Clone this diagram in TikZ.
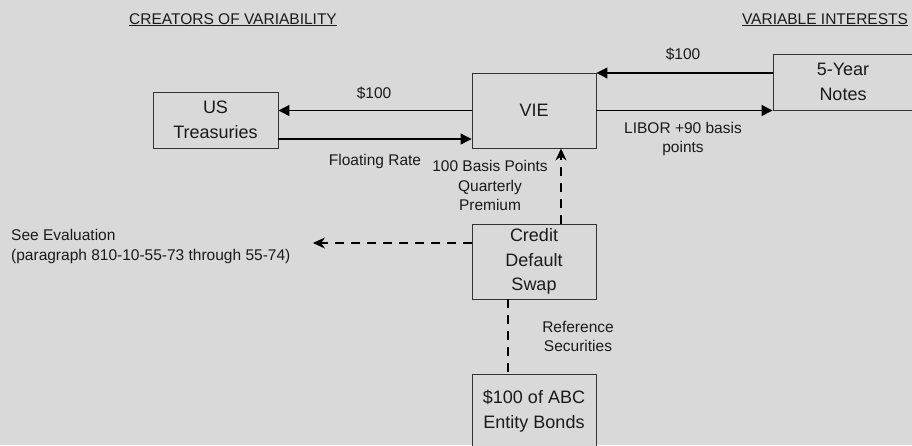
\documentclass[tikz,border=0pt]{standalone}
\usepackage{fontspec}
\setmainfont{Liberation Sans}
\usetikzlibrary{arrows.meta}
\definecolor{bg}{HTML}{D9D9D9}
\definecolor{ink}{HTML}{1A1A1A}
\begin{document}
\begin{tikzpicture}[x=1pt,y=-1pt,
  box/.style={draw=black!80, line width=0.9pt, fill=bg, inner sep=0pt, align=center,
    font=\fontsize{18}{24.5}\selectfont, text=ink},
  lbl/.style={inner sep=0pt, align=center, font=\fontsize{15.5}{19.5}\selectfont, text=ink},
  flow/.style={line width=1.1pt, -{Triangle[length=11pt,width=11pt]}},
  dflow/.style={line width=1.1pt, dash pattern=on 9pt off 7pt, -{Stealth[length=12pt,width=11pt]}},
  dline/.style={line width=1.1pt, dash pattern=on 9pt off 7pt}]
\fill[bg] (0,0) rectangle (912,445);
\useasboundingbox (0,0) rectangle (912,445);
\clip (0,0) rectangle (912,445);

% boxes
\node[box, minimum width=125pt, minimum height=56pt] (us) at (215.5,120) {US\\Treasuries};
\node[box, minimum width=124pt, minimum height=75pt] (vie) at (534,110.5) {VIE};
\node[box, minimum width=146pt, minimum height=56pt, text width=140pt] (notes) at (846,82) {\hspace*{-6pt}5-Year\\\hspace*{-6pt}Notes};
\node[box, minimum width=124pt, minimum height=75pt] (cds) at (534,261.5) {Credit\\Default\\Swap};
\node[box, minimum width=124pt, minimum height=74pt] (abc) at (534,411) {\$100 of ABC\\Entity Bonds};

% headers
\node[lbl, anchor=base] (hl) at (233,24) {\underline{CREATORS OF VARIABILITY}};
\node[lbl, anchor=base] (hr) at (825,24) {\underline{VARIABLE INTERESTS}};

% solid flows
\draw[flow] (vie.west) -- (vie.west -| us.east);
\draw[flow] ([yshift=-19pt]us.east) -- ([yshift=-19pt]us.east -| vie.west);
\draw[flow] ([yshift=9pt]notes.west) -- ([yshift=9pt]notes.west -| vie.east);
\draw[flow] (vie.east) -- (vie.east -| notes.west);

% dashed
\coordinate (seeev) at (313,243);
\draw[dflow] ([xshift=27pt]cds.north) -- ([xshift=27pt]cds.north |- vie.south);
\draw[dflow] (cds.west |- seeev) -- (seeev);
\draw[dline] ([xshift=-26pt]cds.south) -- ([xshift=-26pt]cds.south |- abc.north);

% labels (base anchor = baseline of last line)
\node[lbl, anchor=base] (l1) at (374,98) {\$100};
\node[lbl, anchor=base] (l2) at (375,165) {Floating Rate};
\node[lbl, anchor=base] (l3) at (490,210.5) {100 Basis Points\\Quarterly\\Premium};
\node[lbl, anchor=base] (l4) at (683,59) {\$100};
\node[lbl, anchor=base] (l5) at (683,152.5) {LIBOR +90 basis\\points};
\node[lbl, anchor=base west, align=left] (l6) at (11,260) {See Evaluation\\(paragraph 810-10-55-73 through 55-74)};
\node[lbl, anchor=base] (l7) at (578,351.5) {Reference\\Securities};
\end{tikzpicture}
\end{document}
